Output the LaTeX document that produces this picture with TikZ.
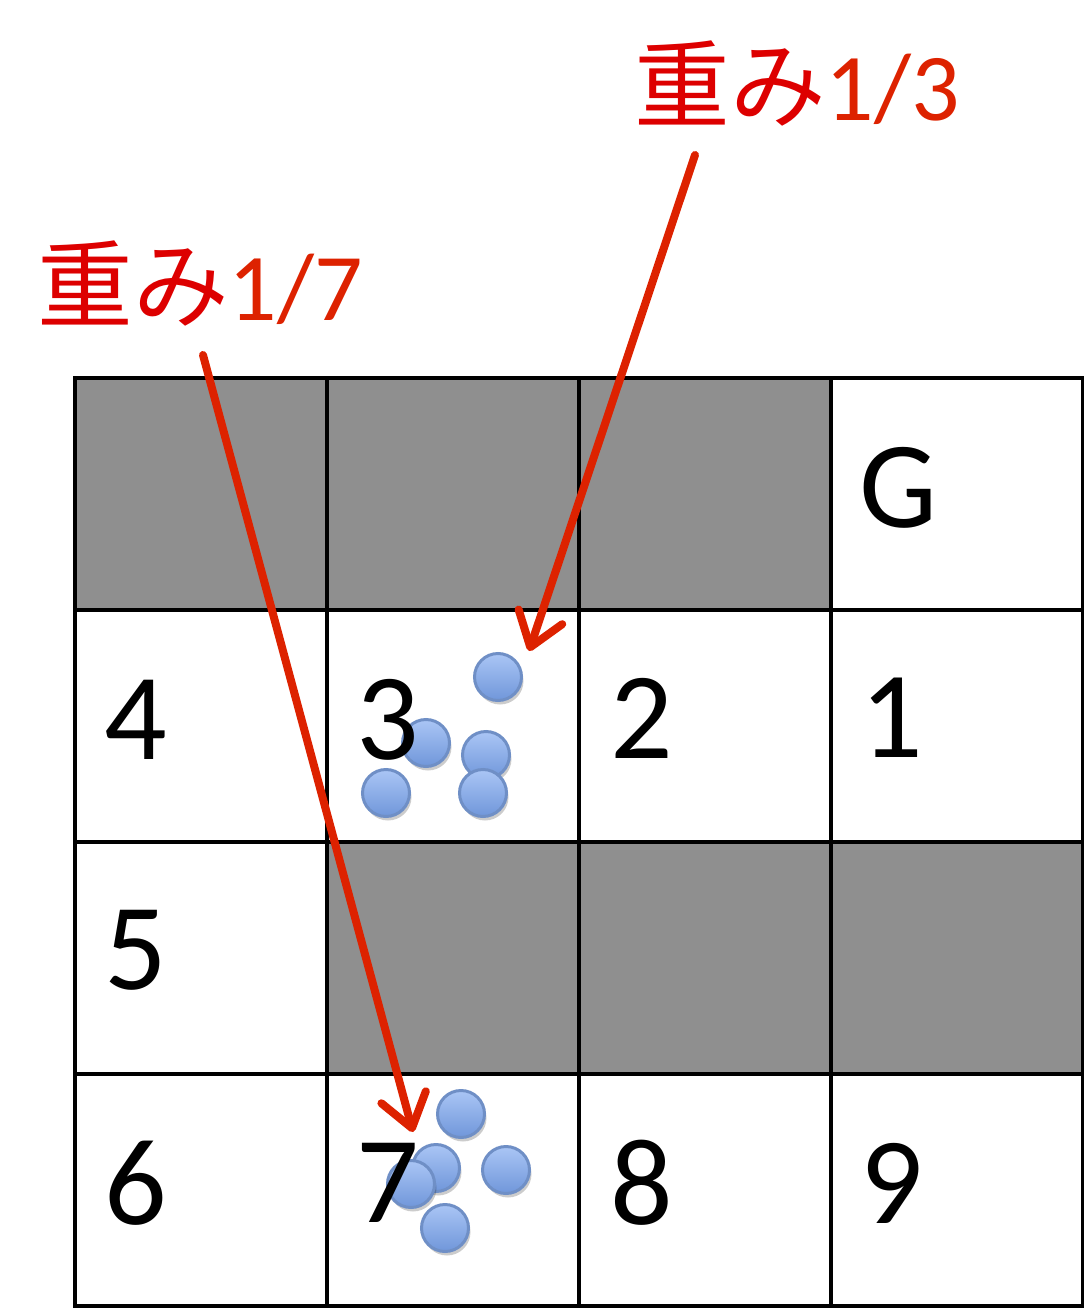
\documentclass[tikz,border=0pt]{standalone}
\usepackage{fontspec}
\setmainfont{Carlito}
\newfontfamily\jpfont{Noto Sans CJK JP}
\usepackage{tikz}
\usetikzlibrary{positioning,arrows.meta,calc,shadows}
\definecolor{wallgray}{HTML}{8F8F8F}
\definecolor{wred}{HTML}{DD0000}
\definecolor{worange}{HTML}{DD2200}
\definecolor{ballline}{HTML}{6F8FC6}
\definecolor{balltop}{HTML}{AAC6F5}
\definecolor{ballbot}{HTML}{7096DA}

\begin{document}
\begin{tikzpicture}[x=1bp, y=-1bp,
  cell/.style={rectangle, draw=black, line width=3.5bp, fill=white,
    minimum width=252bp, minimum height=232bp, inner sep=0pt},
  wall/.style={cell, fill=wallgray},
  num/.style={anchor=west, inner sep=0pt, font=\fontsize{124}{124}\selectfont},
  ball/.style={circle, draw=ballline, line width=3bp, minimum size=47bp, inner sep=0pt,
    top color=balltop, bottom color=ballbot,
    drop shadow={shadow xshift=2bp, shadow yshift=-4bp, opacity=0.2, fill=black}},
  lbl/.style={inner sep=0pt, font=\fontsize{96}{96}\selectfont},
  arr/.style={-{Straight Barb[length=32bp,width=46bp,round]}, line width=8bp,
    line cap=round, color=worange}
]
\useasboundingbox (0,0) rectangle (1083,1308);

% grid
\foreach \r in {1,...,4}
  \foreach \c in {1,...,4}
    \node[cell] (c\r\c) at ({75+252*(\c-0.5)}, {378+232*(\r-0.5)}) {};
\foreach \r/\c in {1/1,1/2,1/3,3/2,3/3,3/4}
  \node[wall] at (c\r\c) {};

% particles
\node[ball] (b31) at (498,677) {};
\node[ball] (b32) at (426,743) {};
\node[ball] (b33) at (486,755) {};
\node[ball] (b34) at (386,793) {};
\node[ball] (b35) at (483,793) {};
\node[ball] (b71) at (461,1114) {};
\node[ball] (b72) at (436,1168) {};
\node[ball] (b73) at (411,1184) {};
\node[ball] (b74) at (506,1170) {};
\node[ball] (b75) at (445,1228) {};

% state numbers
\node[num] (nG) at ($(c14.west)+(30,-6)$) {G};
\node[num] (n4) at ($(c21.west)+(31,-6)$) {4};
\node[num] (n3) at ($(c22.west)+(31,-6)$) {3};
\node[num] (n2) at ($(c23.west)+(33,-8)$) {2};
\node[num] (n1) at ($(c24.west)+(31,-8)$) {1};
\node[num] (n5) at ($(c31.west)+(31,-8)$) {5};
\node[num] (n6) at ($(c41.west)+(31,-7)$) {6};
\node[num] (n7) at ($(c42.west)+(31,-7)$) {7};
\node[num] (n8) at ($(c43.west)+(33,-7)$) {8};
\node[num] (n9) at ($(c44.west)+(31,-7)$) {9};

% weights
\node[lbl] (w3) at (797,83) {{\jpfont\color{wred}重み}\color{worange}1/3};
\node[lbl] (w7) at (200,283) {{\jpfont\color{wred}重み}\color{worange}1/7};
\coordinate (w3s) at (695,155);
\coordinate (w7s) at (203,355);
\coordinate (t3) at (529,651);
\coordinate (t7) at (413,1132);
\draw[arr] (w3s) -- (t3);
\draw[arr] (w7s) -- (t7);
\end{tikzpicture}
\end{document}
